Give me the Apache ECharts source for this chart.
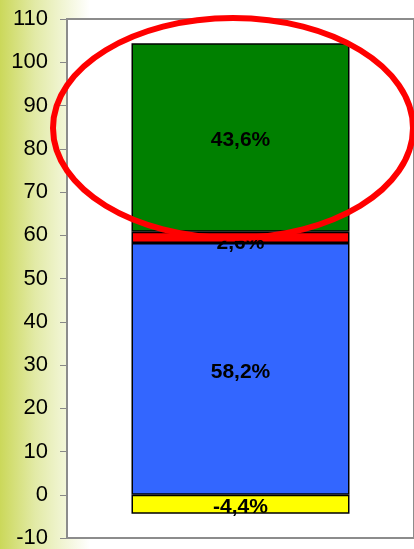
<!DOCTYPE html>
<html>
<head>
<meta charset="utf-8">
<script src="https://cdn.jsdelivr.net/npm/echarts@6/dist/echarts.min.js"></script>
<style>
  html, body { margin: 0; padding: 0; background: #fff; }
  #chart { width: 414px; height: 549px; }
</style>
</head>
<body>
<div id="chart"></div>
<script>
const categories = [''];
const seriesNames = ['neg', 'blue', 'red', 'green'];
const seriesValues = [[-4.4], [58.2], [2.6], [43.6]];
const seriesColors = ['#ffff00', '#3366ff', '#ff0000', '#008000'];
const yTicks = [-10, 0, 10, 20, 30, 40, 50, 60, 70, 80, 90, 100, 110];

const chart = echarts.init(document.getElementById('chart'));

const fmt = p => p.value.toFixed(1).replace('.', ',') + '%';

const option = {
  animation: false,
  backgroundColor: '#fff',
  textStyle: { fontFamily: 'Liberation Sans, Arial, sans-serif' },
  grid: {
    left: 67, top: 19, right: -3, bottom: 8,
    show: true,
    backgroundColor: '#fff',
    borderColor: '#8c8c8c',
    borderWidth: 2,
    z: 1
  },
  xAxis: {
    type: 'category',
    data: categories,
    axisLine: { onZero: true, lineStyle: { color: '#000', width: 1 } },
    axisTick: { show: false },
    axisLabel: { show: false }
  },
  yAxis: {
    type: 'value',
    min: yTicks[0],
    max: yTicks[yTicks.length - 1],
    interval: 10,
    axisLine: { show: true, onZero: false, lineStyle: { color: '#000', width: 2 } },
    axisTick: { show: true, length: 7, lineStyle: { color: '#888' } },
    axisLabel: {
      color: '#000', fontSize: 22, margin: 19, fontFamily: 'Liberation Sans',
      padding: [4, 0, 0, 0]
    },
    splitLine: { lineStyle: { color: '#aaa', width: 1 } }
  },
  graphic: [
    {
      type: 'rect',
      z: -10,
      shape: { x: 0, y: 0, width: 100, height: 549 },
      style: {
        fill: new echarts.graphic.LinearGradient(0, 0, 1, 0, [
          { offset: 0, color: '#cbd85a' },
          { offset: 0.35, color: '#e2eaa6' },
          { offset: 0.9, color: '#ffffff' }
        ])
      }
    },
    {
      type: 'ellipse',
      z: 100,
      shape: { cx: 233, cy: 128, rx: 180, ry: 110 },
      style: { fill: null, stroke: '#ff0000', lineWidth: 6 }
    }
  ],
  series: seriesNames.map((name, i) => ({
    name: name,
    type: 'bar',
    stack: 'total',
    barWidth: 218,
    data: seriesValues[i],
    itemStyle: { color: seriesColors[i], borderColor: '#000', borderWidth: 1.5 },
    label: {
      show: true,
      position: 'inside',
      color: '#000',
      fontWeight: 'bold',
      fontSize: 21,
      fontFamily: 'Liberation Sans',
      offset: name === 'red' ? [0, 6] : [0, 3],
      formatter: fmt
    }
  }))
};

chart.setOption(option);
</script>
</body>
</html>
